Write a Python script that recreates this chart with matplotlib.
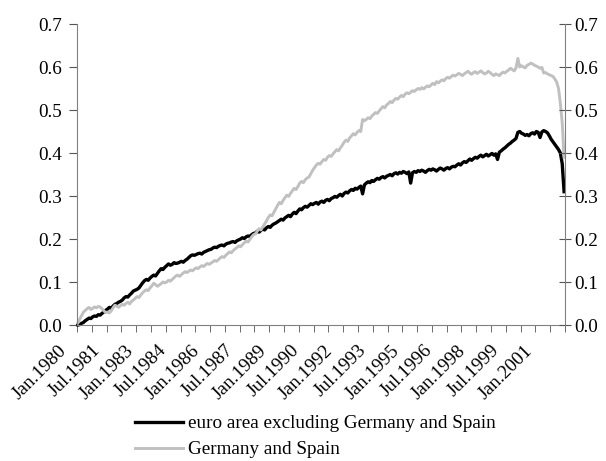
import matplotlib
matplotlib.use('Agg')
import matplotlib.pyplot as plt
import matplotlib.transforms as mtransforms
import numpy as np

# monthly values, Jan.1980 - Dec.2001 (one row per year)
euro_ex = [
    0.000, 0.001, 0.004, 0.006, 0.010, 0.013, 0.016, 0.015, 0.019, 0.021, 0.020, 0.024,
    0.023, 0.027, 0.030, 0.034, 0.037, 0.041, 0.039, 0.044, 0.048, 0.050, 0.053, 0.055,
    0.058, 0.063, 0.066, 0.065, 0.070, 0.074, 0.079, 0.081, 0.083, 0.086, 0.092, 0.098,
    0.103, 0.106, 0.104, 0.109, 0.113, 0.116, 0.114, 0.120, 0.126, 0.131, 0.129, 0.134,
    0.138, 0.142, 0.139, 0.141, 0.145, 0.143, 0.144, 0.146, 0.148, 0.146, 0.150, 0.153,
    0.157, 0.161, 0.163, 0.162, 0.164, 0.166, 0.167, 0.165, 0.169, 0.171, 0.173, 0.175,
    0.176, 0.179, 0.181, 0.180, 0.183, 0.185, 0.186, 0.184, 0.188, 0.190, 0.191, 0.193,
    0.194, 0.192, 0.196, 0.198, 0.200, 0.203, 0.201, 0.205, 0.207, 0.206, 0.210, 0.213,
    0.214, 0.218, 0.216, 0.220, 0.224, 0.221, 0.226, 0.229, 0.227, 0.232, 0.235, 0.237,
    0.240, 0.243, 0.246, 0.244, 0.249, 0.252, 0.255, 0.252, 0.258, 0.262, 0.259, 0.265,
    0.270, 0.268, 0.273, 0.276, 0.274, 0.278, 0.282, 0.280, 0.283, 0.285, 0.281, 0.286,
    0.288, 0.285, 0.290, 0.292, 0.289, 0.294, 0.296, 0.299, 0.297, 0.301, 0.304, 0.300,
    0.306, 0.309, 0.307, 0.312, 0.315, 0.313, 0.318, 0.316, 0.320, 0.323, 0.305, 0.326,
    0.330, 0.333, 0.331, 0.336, 0.334, 0.338, 0.341, 0.339, 0.343, 0.345, 0.342, 0.346,
    0.348, 0.350, 0.347, 0.352, 0.354, 0.351, 0.355, 0.353, 0.357, 0.355, 0.352, 0.356,
    0.330, 0.354, 0.357, 0.355, 0.359, 0.357, 0.360, 0.358, 0.355, 0.359, 0.362, 0.360,
    0.363, 0.361, 0.358, 0.362, 0.365, 0.363, 0.360, 0.364, 0.366, 0.363, 0.367, 0.369,
    0.368, 0.372, 0.375, 0.372, 0.377, 0.380, 0.378, 0.382, 0.386, 0.383, 0.387, 0.390,
    0.388, 0.392, 0.395, 0.391, 0.394, 0.397, 0.393, 0.396, 0.399, 0.395, 0.398, 0.385,
    0.402, 0.405, 0.409, 0.412, 0.416, 0.420, 0.423, 0.427, 0.430, 0.434, 0.448, 0.450,
    0.446, 0.444, 0.441, 0.443, 0.440, 0.445, 0.447, 0.444, 0.450, 0.448, 0.436, 0.449,
    0.452, 0.450, 0.447, 0.440, 0.432, 0.426, 0.420, 0.414, 0.408, 0.400, 0.375, 0.310,
]

de_es = [
    0.005, 0.014, 0.022, 0.030, 0.034, 0.038, 0.041, 0.036, 0.039, 0.042, 0.040, 0.043,
    0.042, 0.038, 0.033, 0.029, 0.030, 0.028, 0.033, 0.040, 0.046, 0.044, 0.041, 0.045,
    0.048, 0.046, 0.050, 0.053, 0.049, 0.055, 0.058, 0.062, 0.066, 0.064, 0.070, 0.075,
    0.079, 0.082, 0.080, 0.086, 0.091, 0.097, 0.094, 0.090, 0.093, 0.096, 0.100, 0.098,
    0.100, 0.104, 0.102, 0.106, 0.110, 0.114, 0.116, 0.113, 0.117, 0.121, 0.124, 0.122,
    0.125, 0.128, 0.126, 0.130, 0.133, 0.131, 0.135, 0.138, 0.136, 0.140, 0.143, 0.141,
    0.144, 0.147, 0.150, 0.148, 0.152, 0.156, 0.159, 0.157, 0.162, 0.166, 0.170, 0.168,
    0.173, 0.177, 0.180, 0.184, 0.182, 0.187, 0.191, 0.195, 0.193, 0.199, 0.205, 0.210,
    0.212, 0.218, 0.224, 0.221, 0.228, 0.235, 0.242, 0.250, 0.256, 0.254, 0.262, 0.270,
    0.278, 0.285, 0.282, 0.290, 0.296, 0.302, 0.299, 0.306, 0.312, 0.318, 0.315, 0.322,
    0.330, 0.334, 0.331, 0.338, 0.342, 0.344, 0.352, 0.360, 0.366, 0.372, 0.376, 0.374,
    0.380, 0.385, 0.383, 0.390, 0.394, 0.392, 0.398, 0.403, 0.408, 0.405, 0.412, 0.418,
    0.425, 0.430, 0.427, 0.435, 0.440, 0.445, 0.442, 0.448, 0.452, 0.450, 0.478, 0.475,
    0.478, 0.482, 0.480, 0.486, 0.490, 0.494, 0.492, 0.498, 0.503, 0.508, 0.505, 0.512,
    0.515, 0.520, 0.517, 0.523, 0.527, 0.525, 0.530, 0.534, 0.531, 0.537, 0.540, 0.538,
    0.541, 0.545, 0.543, 0.547, 0.550, 0.548, 0.552, 0.549, 0.553, 0.556, 0.554, 0.558,
    0.562, 0.559, 0.566, 0.563, 0.567, 0.570, 0.568, 0.573, 0.576, 0.574, 0.578, 0.581,
    0.579, 0.582, 0.585, 0.583, 0.580, 0.584, 0.587, 0.590, 0.586, 0.583, 0.587, 0.589,
    0.585, 0.588, 0.591, 0.587, 0.584, 0.586, 0.590, 0.587, 0.583, 0.580, 0.584, 0.582,
    0.580, 0.585, 0.588, 0.586, 0.590, 0.593, 0.597, 0.594, 0.591, 0.598, 0.620, 0.600,
    0.603, 0.600, 0.598, 0.604, 0.606, 0.609, 0.607, 0.604, 0.602, 0.600, 0.597, 0.599,
    0.586, 0.587, 0.584, 0.582, 0.580, 0.578, 0.572, 0.565, 0.550, 0.515, 0.470, 0.390,
]

tick_labels = ['Jan.1980', 'Jul.1981', 'Jan.1983', 'Jul.1984', 'Jan.1986',
               'Jul.1987', 'Jan.1989', 'Jul.1990', 'Jan.1992', 'Jul.1993',
               'Jan.1995', 'Jul.1996', 'Jan.1998', 'Jul.1999', 'Jan.2001']

plt.rcParams['font.family'] = ['Liberation Serif', 'DejaVu Serif']
plt.rcParams['font.size'] = 13.8

n = len(euro_ex)
x = np.arange(n) + 0.5

fig = plt.figure(figsize=(6.06, 4.61), dpi=100)
ax = fig.add_axes([77 / 606, 1 - 325 / 461, (565 - 77) / 606, (325 - 24) / 461])

ax.plot(x, euro_ex, color='black', lw=2.4, clip_on=False,
        label='euro area excluding Germany and Spain')
ax.plot(x, de_es, color='#c0c0c0', lw=2.1, clip_on=False,
        label='Germany and Spain')

ax.set_xlim(0, n)
ax.set_ylim(0, 0.7)
yt = np.arange(0, 0.71, 0.1)
ax.set_yticks(yt)
ax.set_yticklabels(['%.1f' % v for v in yt])

# labels every 18 months, tick marks every 8 months
ax.set_xticks(np.arange(0, n, 18) + 0.5)
ax.set_xticklabels(tick_labels, rotation=45, ha='right', va='center',
                   rotation_mode='anchor')
ax.set_xticks(np.arange(0, n + 1, 8), minor=True)
ax.tick_params(axis='x', which='major', length=0, pad=0)
ax.tick_params(axis='x', which='minor', length=5, color='#555555', direction='out')
ax.tick_params(axis='y', length=6, color='#555555', pad=5)
offset = mtransforms.ScaledTranslation(-14 / 100, -23 / 100, fig.dpi_scale_trans)
for lab in ax.get_xticklabels():
    lab.set_transform(lab.get_transform() + offset)

for side in ['top', 'right']:
    ax.spines[side].set_visible(False)
for side in ['left', 'bottom']:
    ax.spines[side].set_color('#808080')

ax2 = ax.twinx()
ax2.set_ylim(0, 0.7)
ax2.set_yticks(yt)
ax2.set_yticklabels(['%.1f' % v for v in yt])
ax2.tick_params(axis='y', direction='inout', length=8, color='#555555', pad=3)
for side in ['top', 'left', 'bottom']:
    ax2.spines[side].set_visible(False)
ax2.spines['right'].set_color('#808080')

ax.legend(loc='upper left', bbox_to_anchor=(135 / 606, 1 - 415 / 461),
          bbox_transform=fig.transFigure, frameon=False, borderpad=0,
          borderaxespad=0, handlelength=2.5, handletextpad=0.25,
          labelspacing=0.45)

fig.savefig('out.png', dpi=100)
